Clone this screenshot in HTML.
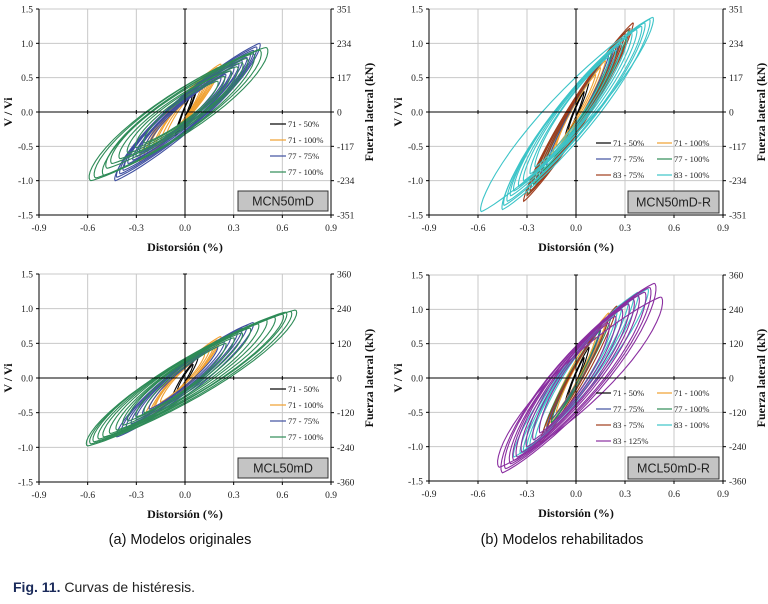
<!DOCTYPE html>
<html><head><meta charset="utf-8">
<style>
html,body{margin:0;padding:0;background:#fff;}
svg text{font-family:"Liberation Serif",serif;}
</style></head>
<body>
<svg id="fig" width="768" height="599" viewBox="0 0 768 599" xmlns="http://www.w3.org/2000/svg">
<text x="180" y="544" font-size="14.5" text-anchor="middle" fill="#111" style="font-family:'Liberation Sans',sans-serif">(a) Modelos originales</text>
<text x="562" y="544" font-size="14.5" text-anchor="middle" fill="#111" style="font-family:'Liberation Sans',sans-serif">(b) Modelos rehabilitados</text>
<text x="13" y="592" font-size="14" fill="#222" style="font-family:'Liberation Sans',sans-serif"><tspan font-weight="bold" fill="#1a2a5a">Fig. 11.</tspan> Curvas de histéresis.</text>
</svg>
<script>
// ---- data ----
const xTicks = [-0.9,-0.6,-0.3,0.0,0.3,0.6,0.9];
const yTicks = [-1.5,-1.0,-0.5,0.0,0.5,1.0,1.5];
const rightTicksTop = [-351,-234,-117,0,117,234,351];
const rightTicksBottom = [-360,-240,-120,0,120,240,360];
const seriesNames = ["71 - 50%","71 - 100%","77 - 75%","77 - 100%","83 - 75%","83 - 100%","83 - 125%"];
const seriesColors = ["#000000","#f0a030","#3f4fa0","#2e8b57","#a03c1c","#3cc4c8","#8a2ea0"];

// panel a1 (MCN50mD) cycle peaks
const a1_s0_xp=[0.05,0.07,0.08], a1_s0_yp=[0.3,0.38,0.42], a1_s0_xn=[-0.04,-0.05,-0.06], a1_s0_yn=[-0.25,-0.3,-0.35];
const a1_s1_xp=[0.1,0.12,0.14,0.16,0.18,0.2,0.22], a1_s1_yp=[0.4,0.45,0.5,0.55,0.6,0.65,0.7], a1_s1_xn=[-0.12,-0.15,-0.18,-0.2,-0.23,-0.25,-0.28], a1_s1_yn=[-0.4,-0.45,-0.5,-0.55,-0.6,-0.65,-0.72];
const a1_s2_xp=[0.22,0.25,0.28,0.3,0.33,0.35,0.38,0.4,0.42,0.44,0.46], a1_s2_yp=[0.5,0.55,0.6,0.65,0.7,0.75,0.8,0.85,0.9,0.95,1.0], a1_s2_xn=[-0.22,-0.25,-0.28,-0.3,-0.32,-0.35,-0.37,-0.38,-0.4,-0.42,-0.43], a1_s2_yn=[-0.5,-0.55,-0.6,-0.65,-0.7,-0.75,-0.8,-0.85,-0.9,-0.95,-1.0];
const a1_s3_xp=[0.2,0.24,0.28,0.32,0.35,0.38,0.42,0.46,0.5], a1_s3_yp=[0.45,0.52,0.6,0.66,0.72,0.78,0.85,0.9,0.94], a1_s3_xn=[-0.25,-0.3,-0.35,-0.4,-0.45,-0.48,-0.5,-0.55,-0.58], a1_s3_yn=[-0.45,-0.52,-0.6,-0.68,-0.75,-0.82,-0.92,-0.96,-1.0];
// panel b1 (MCN50mD-R)
const b1_s0_xp=[0.05,0.08], b1_s0_yp=[0.3,0.45], b1_s0_xn=[-0.05,-0.07], b1_s0_yn=[-0.3,-0.4];
const b1_s1_xp=[0.12,0.15,0.18,0.22], b1_s1_yp=[0.55,0.65,0.75,0.9], b1_s1_xn=[-0.12,-0.14,-0.16,-0.2], b1_s1_yn=[-0.5,-0.6,-0.7,-0.85];
const b1_s2_xp=[0.2,0.23,0.26,0.3], b1_s2_yp=[0.85,0.92,1.0,1.15], b1_s2_xn=[-0.18,-0.21,-0.24,-0.28], b1_s2_yn=[-0.8,-0.9,-1.0,-1.15];
const b1_s3_xp=[0.22,0.25,0.28,0.32], b1_s3_yp=[0.9,1.0,1.1,1.2], b1_s3_xn=[-0.2,-0.23,-0.26,-0.3], b1_s3_yn=[-0.85,-0.95,-1.05,-1.2];
const b1_s4_xp=[0.25,0.28,0.3,0.33,0.35], b1_s4_yp=[1.0,1.08,1.15,1.22,1.3], b1_s4_xn=[-0.22,-0.25,-0.28,-0.3,-0.32], b1_s4_yn=[-0.95,-1.05,-1.15,-1.22,-1.3];
const b1_s5_xp=[0.2,0.24,0.28,0.31,0.34,0.37,0.4,0.42,0.45,0.47], b1_s5_yp=[0.8,0.9,1.0,1.08,1.15,1.2,1.25,1.3,1.35,1.38], b1_s5_xn=[-0.25,-0.28,-0.32,-0.35,-0.38,-0.4,-0.42,-0.44,-0.45,-0.58], b1_s5_yn=[-0.8,-0.9,-1.0,-1.08,-1.15,-1.22,-1.3,-1.36,-1.42,-1.45];
// panel a2 (MCL50mD)
const a2_s0_xp=[0.05,0.08], a2_s0_yp=[0.2,0.3], a2_s0_xn=[-0.05,-0.08], a2_s0_yn=[-0.2,-0.3];
const a2_s1_xp=[0.12,0.15,0.18,0.2,0.22], a2_s1_yp=[0.35,0.42,0.5,0.55,0.6], a2_s1_xn=[-0.15,-0.18,-0.2,-0.22,-0.25], a2_s1_yn=[-0.35,-0.42,-0.5,-0.55,-0.6];
const a2_s2_xp=[0.2,0.24,0.28,0.32,0.35,0.38,0.42], a2_s2_yp=[0.45,0.52,0.6,0.66,0.72,0.76,0.8], a2_s2_xn=[-0.22,-0.26,-0.3,-0.33,-0.36,-0.39,-0.42], a2_s2_yn=[-0.45,-0.52,-0.6,-0.66,-0.72,-0.78,-0.85];
const a2_s3_xp=[0.25,0.3,0.35,0.4,0.45,0.5,0.55,0.6,0.62,0.65,0.68], a2_s3_yp=[0.5,0.58,0.65,0.72,0.78,0.84,0.88,0.92,0.95,0.96,0.98], a2_s3_xn=[-0.25,-0.3,-0.35,-0.38,-0.42,-0.46,-0.5,-0.53,-0.56,-0.58,-0.6], a2_s3_yn=[-0.5,-0.56,-0.62,-0.68,-0.75,-0.8,-0.85,-0.88,-0.92,-0.95,-0.98];
// panel b2 (MCL50mD-R)
const b2_s0_xp=[0.05,0.08], b2_s0_yp=[0.3,0.45], b2_s0_xn=[-0.05,-0.07], b2_s0_yn=[-0.3,-0.4];
const b2_s1_xp=[0.12,0.18,0.2], b2_s1_yp=[0.6,0.8,0.95], b2_s1_xn=[-0.12,-0.15,-0.18], b2_s1_yn=[-0.5,-0.6,-0.7];
const b2_s2_xp=[0.15,0.2], b2_s2_yp=[0.7,0.9], b2_s2_xn=[-0.15,-0.18], b2_s2_yn=[-0.6,-0.75];
const b2_s3_xp=[0.15,0.22], b2_s3_yp=[0.75,0.95], b2_s3_xn=[-0.15,-0.2], b2_s3_yn=[-0.65,-0.8];
const b2_s4_xp=[0.2,0.25], b2_s4_yp=[0.9,1.05], b2_s4_xn=[-0.18,-0.22], b2_s4_yn=[-0.8,-0.95];
const b2_s5_xp=[0.25,0.28,0.32,0.35,0.38,0.44], b2_s5_yp=[1.0,1.08,1.15,1.2,1.25,1.3], b2_s5_xn=[-0.25,-0.28,-0.3,-0.32,-0.34,-0.38], b2_s5_yn=[-0.95,-1.0,-1.05,-1.08,-1.1,-1.15];
const b2_s6_xp=[0.2,0.24,0.28,0.32,0.35,0.38,0.42,0.45,0.48,0.52], b2_s6_yp=[0.8,0.9,1.0,1.08,1.15,1.2,1.25,1.32,1.38,1.18], b2_s6_xn=[-0.22,-0.26,-0.3,-0.33,-0.36,-0.38,-0.4,-0.43,-0.45,-0.47], b2_s6_yn=[-0.8,-0.9,-1.0,-1.08,-1.15,-1.2,-1.25,-1.32,-1.38,-1.3];

const NS="http://www.w3.org/2000/svg";
const svg=document.getElementById('fig');
function mk(tag,attrs,parent){const e=document.createElementNS(NS,tag);for(const k in attrs)e.setAttribute(k,attrs[k]);(parent||svg).appendChild(e);return e;}

const panels=[
 {id:"a1",L:39,R:331,T:9,B:215,right:rightTicksTop,label:"MCN50mD",box:[238,191,90,20],legCols:1,legX:270,legY:124,
  series:[[a1_s0_xp,a1_s0_yp,a1_s0_xn,a1_s0_yn,0.3],[a1_s1_xp,a1_s1_yp,a1_s1_xn,a1_s1_yn,0.35],[a1_s2_xp,a1_s2_yp,a1_s2_xn,a1_s2_yn,0.35],[a1_s3_xp,a1_s3_yp,a1_s3_xn,a1_s3_yn,0.45]]},
 {id:"b1",L:429,R:723,T:9,B:215,right:rightTicksTop,label:"MCN50mD-R",box:[628,191,91,22],legCols:2,legX:596,legY:143,
  series:[[b1_s0_xp,b1_s0_yp,b1_s0_xn,b1_s0_yn,0.25],[b1_s1_xp,b1_s1_yp,b1_s1_xn,b1_s1_yn,0.25],[b1_s2_xp,b1_s2_yp,b1_s2_xn,b1_s2_yn,0.25],[b1_s3_xp,b1_s3_yp,b1_s3_xn,b1_s3_yn,0.25],[b1_s4_xp,b1_s4_yp,b1_s4_xn,b1_s4_yn,0.25],[b1_s5_xp,b1_s5_yp,b1_s5_xn,b1_s5_yn,0.35]]},
 {id:"a2",L:39,R:331,T:274,B:482,right:rightTicksBottom,label:"MCL50mD",box:[238,458,90,20],legCols:1,legX:270,legY:389,
  series:[[a2_s0_xp,a2_s0_yp,a2_s0_xn,a2_s0_yn,0.3],[a2_s1_xp,a2_s1_yp,a2_s1_xn,a2_s1_yn,0.35],[a2_s2_xp,a2_s2_yp,a2_s2_xn,a2_s2_yn,0.35],[a2_s3_xp,a2_s3_yp,a2_s3_xn,a2_s3_yn,0.4]]},
 {id:"b2",L:429,R:723,T:275,B:481,right:rightTicksBottom,label:"MCL50mD-R",box:[628,457,91,22],legCols:2,legX:596,legY:393,
  series:[[b2_s0_xp,b2_s0_yp,b2_s0_xn,b2_s0_yn,0.25],[b2_s1_xp,b2_s1_yp,b2_s1_xn,b2_s1_yn,0.25],[b2_s2_xp,b2_s2_yp,b2_s2_xn,b2_s2_yn,0.25],[b2_s3_xp,b2_s3_yp,b2_s3_xn,b2_s3_yn,0.25],[b2_s4_xp,b2_s4_yp,b2_s4_xn,b2_s4_yn,0.25],[b2_s5_xp,b2_s5_yp,b2_s5_xn,b2_s5_yn,0.35],[b2_s6_xp,b2_s6_yp,b2_s6_xn,b2_s6_yn,0.45]]}
];

panels.forEach(p=>{
 const g=mk('g',{});
 
 
 const sx=v=>p.L+(v+0.9)/1.8*(p.R-p.L);
 const sy=v=>p.B-(v+1.5)/3*(p.B-p.T);
 xTicks.forEach(t=>{ if(t!==0&&Math.abs(t)!==0.9){const l=mk('line',{x1:sx(t),x2:sx(t),y1:p.T,y2:p.B,stroke:'#c8c8c8','stroke-width':1},g);}});
 yTicks.forEach(t=>{ if(t!==0&&t!==-1.5){const l=mk('line',{x1:p.L,x2:p.R,y1:sy(t),y2:sy(t),stroke:'#c8c8c8','stroke-width':1},g);}});
 p.series.forEach((s,si)=>{
  const [xp,yp,xn,yn,w]=s;
  const sg=mk('g',{fill:'none',stroke:seriesColors[si],'stroke-width':1.1},g);
  
  
  for(let i=0;i<xp.length;i++){
   const cx=(xp[i]+xn[i])/2, cy=(yp[i]+yn[i])/2, ux=(xp[i]-xn[i])/2, uy=(yp[i]-yn[i])/2, wx=w*ux;
   let d='';
   for(let k=0;k<=48;k++){const t=k/48*2*Math.PI;const s3=Math.sin(t);const x=cx+ux*Math.cos(t)+wx*s3*Math.pow(Math.abs(s3),0.5)*0.9;const y=cy+uy*Math.cos(t);d+=(k?'L':'M')+sx(x).toFixed(1)+','+sy(y).toFixed(1);}
   const path=mk('path',{d:d},sg);
   
   
  }
 });
 const ax=(x1,y1,x2,y2,n)=>{const l=mk('line',{x1,y1,x2,y2,stroke:'#000','stroke-width':1},g);};
 ax(p.L,p.T,p.L,p.B,'left-axis-line');
 ax(p.L,p.B,p.R,p.B,'x-axis-line');
 ax(p.R,p.T,p.R,p.B,'right-axis-line');
 ax(sx(0),p.T,sx(0),p.B,'zero-vertical-line');
 ax(p.L,sy(0),p.R,sy(0),'zero-horizontal-line');
 xTicks.forEach(t=>{
  ax(sx(t),p.B,sx(t),p.B+3,'x-tick');
  ax(sx(t),sy(0)-2,sx(t),sy(0)+2,'x-zero-tick');
  const tx=mk('text',{x:sx(t),y:p.B+16,'font-size':9.5,'text-anchor':'middle',fill:'#222'},g);tx.textContent=t.toFixed(1);
  
 });
 yTicks.forEach((t,i)=>{
  ax(p.L-3,sy(t),p.L,sy(t),'y-tick');
  ax(sx(0)-2,sy(t),sx(0)+2,sy(t),'y-zero-tick');
  ax(p.R,sy(t),p.R+3,sy(t),'right-tick');
  const ty=mk('text',{x:p.L-6,y:sy(t)+3.5,'font-size':9.5,'text-anchor':'end',fill:'#222'},g);ty.textContent=t.toFixed(1);
  
  const tr=mk('text',{x:p.R+6,y:sy(t)+3.5,'font-size':9.5,'text-anchor':'start',fill:'#222'},g);tr.textContent=p.right[i];
  
 });
 const xt=mk('text',{x:(p.L+p.R)/2,y:p.B+36,'font-size':12,'font-weight':'bold','text-anchor':'middle',fill:'#111'},g);xt.textContent='Distorsión (%)';
 
 const yc=(p.T+p.B)/2;
 const yt=mk('text',{x:p.L-27,y:yc,'font-size':12,'font-weight':'bold','text-anchor':'middle',fill:'#111',transform:`rotate(-90 ${p.L-27} ${yc})`},g);yt.textContent='V / Vi';
 
 const rt=mk('text',{x:p.R+42,y:yc,'font-size':12,'font-weight':'bold','text-anchor':'middle',fill:'#111',transform:`rotate(-90 ${p.R+42} ${yc})`},g);rt.textContent='Fuerza lateral (kN)';
 
 p.series.forEach((s,si)=>{
  const col=p.legCols===2?si%2:0, row=p.legCols===2?Math.floor(si/2):si;
  const lx=p.legX+col*61, ly=p.legY+row*16;
  const lg=mk('g',{},g);
  
  mk('line',{x1:lx,x2:lx+(p.legCols===2?15:16),y1:ly,y2:ly,stroke:seriesColors[si],'stroke-width':1.2},lg);
  const t=mk('text',{x:lx+(p.legCols===2?17:18),y:ly+3,'font-size':8.5,fill:'#222'},lg);t.textContent=seriesNames[si];
 });
 const bx=mk('rect',{x:p.box[0],y:p.box[1],width:p.box[2],height:p.box[3],fill:'#c4c4c4',stroke:'#333','stroke-width':1},g);
 
 const bt=mk('text',{x:p.box[0]+p.box[2]/2,y:p.box[1]+p.box[3]/2+4.5,'font-size':12.5,'text-anchor':'middle',fill:'#222',style:"font-family:'Liberation Sans',sans-serif"},g);bt.textContent=p.label;
 
});
</script>
</body></html>
